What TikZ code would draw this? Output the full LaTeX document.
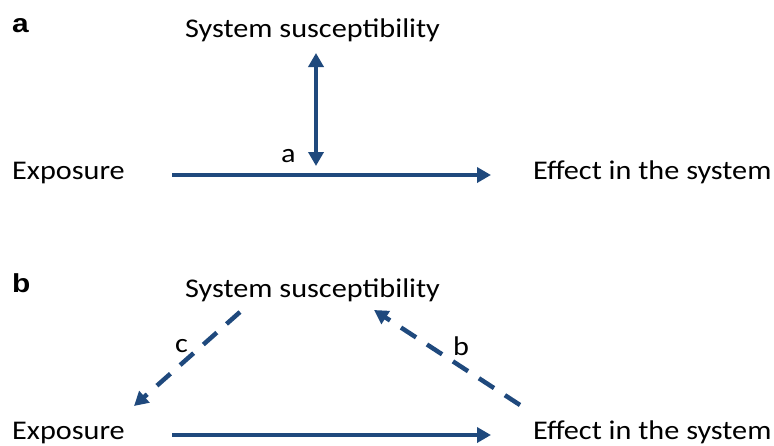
\documentclass[tikz,border=0pt]{standalone}
\usepackage{fontspec}
\setmainfont[FakeStretch=1.12]{Carlito}
\newfontfamily\panelfont[FakeStretch=1.15]{Liberation Sans}
\usetikzlibrary{arrows.meta}
\definecolor{arrowblue}{RGB}{31,73,125}
\tikzset{
  txt/.style={anchor=base west, inner sep=0pt, font=\fontsize{27}{30}\selectfont},
  lbl/.style={anchor=base west, inner sep=0pt, font=\fontsize{27}{30}\selectfont},
  panel/.style={anchor=base west, inner sep=0pt, font=\panelfont\bfseries\fontsize{26}{30}\selectfont},
  conn/.style={draw=arrowblue, line width=4.5pt, -{Triangle[length=14pt,width=15pt]}},
  dconn/.style={conn, dash pattern=on 18pt off 13pt},
}
\begin{document}
\begin{tikzpicture}[x=1pt,y=-1pt]
\useasboundingbox (0,0) rectangle (774,445);
% panel a
\node[panel] (pa) at (12,32) {a};
\node[txt] (susA) at (185,37) {System susceptibility};
\node[txt] (expA) at (12,179) {Exposure};
\node[txt] (effA) at (533,179) {Effect in the system};
\node[lbl] (la) at (281,162) {a};
\coordinate (aS) at (172,175);
\coordinate (aE) at (491,175);
\coordinate (vT) at (316,53);
\coordinate (vB) at (316,166);
\draw[conn] (aS) -- (aE);
\draw[conn, {Triangle[length=14pt,width=15pt]}-{Triangle[length=14pt,width=15pt]}] (vB) -- (vT);
% panel b
\node[panel] (pb) at (12,292) {b};
\node[txt] (susB) at (185,297) {System susceptibility};
\node[txt] (expB) at (12,439) {Exposure};
\node[txt] (effB) at (533,439) {Effect in the system};
\node[lbl] (lc) at (175,352) {c};
\node[lbl] (lb) at (453,355) {b};
\coordinate (bS) at (172,435);
\coordinate (bE) at (491,435);
\coordinate (cS) at (240,312);
\coordinate (cE) at (134,406);
\coordinate (dS) at (520,405);
\coordinate (dE) at (374,310);
\draw[conn] (bS) -- (bE);
\draw[dconn] (cS) -- (cE);
\draw[dconn] (dS) -- (dE);
\end{tikzpicture}
\end{document}
